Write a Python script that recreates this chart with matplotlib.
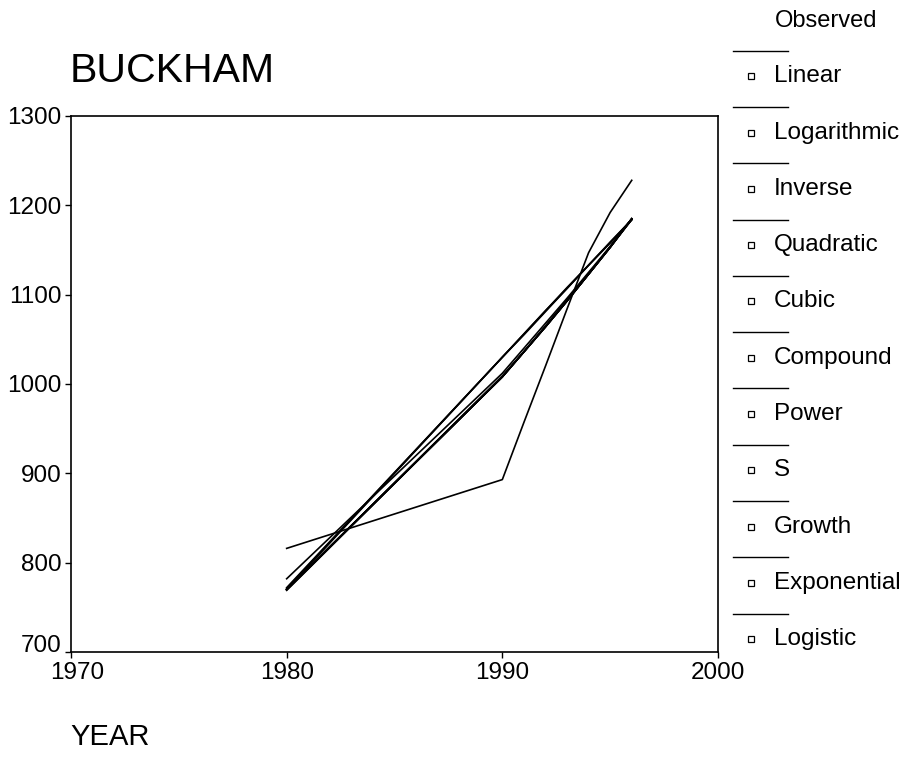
import matplotlib
matplotlib.use("Agg")
import matplotlib.pyplot as plt
from matplotlib.lines import Line2D
from matplotlib.patches import Rectangle
from matplotlib.transforms import ScaledTranslation

plt.rcParams['font.family'] = ['Liberation Sans', 'DejaVu Sans']

# Years at which the curves are evaluated
years = [1980, 1990, 1991, 1992, 1993, 1994, 1995, 1996]

# Fitted values per model (population)
linear      = [772, 1030, 1055, 1081, 1107, 1133, 1158, 1184]
logarithmic = [771, 1030, 1056, 1082, 1107, 1133, 1158, 1184]
inverse     = [770, 1030, 1056, 1082, 1108, 1133, 1159, 1184]
quadratic   = [782, 1012, 1040, 1068, 1096, 1125, 1154, 1184]
cubic       = [816, 893, 957, 1020, 1084, 1147, 1192, 1228]
compound    = [770, 1008, 1036, 1064, 1093, 1123, 1153, 1185]
power       = [769, 1008, 1036, 1064, 1093, 1123, 1153, 1184]
s_curve     = [770, 1009, 1036, 1065, 1094, 1123, 1154, 1185]
growth      = [770, 1008, 1036, 1064, 1093, 1123, 1153, 1185]
exponential = [770, 1008, 1036, 1064, 1093, 1123, 1153, 1185]
logistic    = [770, 1008, 1036, 1064, 1093, 1123, 1153, 1185]

legend_labels = ["Linear", "Logarithmic", "Inverse", "Quadratic", "Cubic",
                 "Compound", "Power", "S", "Growth", "Exponential", "Logistic"]
series = [linear, logarithmic, inverse, quadratic, cubic,
          compound, power, s_curve, growth, exponential, logistic]

x_ticks = [1970, 1980, 1990, 2000]
y_ticks = [700, 800, 900, 1000, 1100, 1200, 1300]

W, H = 903, 758
fig = plt.figure(figsize=(W / 100, H / 100), dpi=100)
fig.patch.set_facecolor("white")

left, right, top, bottom = 71, 718, 116, 652
ax = fig.add_axes([left / W, 1 - bottom / H, (right - left) / W, (bottom - top) / H])

for vals in series:
    ax.plot(years, vals, color="black", lw=1.2, solid_joinstyle="round")

ax.set_xlim(1970, 2000)
ax.set_ylim(700, 1300)
ax.set_xticks(x_ticks)
ax.set_yticks(y_ticks)
ax.set_xticklabels([str(v) for v in x_ticks])
ax.set_yticklabels([str(v) for v in y_ticks])
ax.tick_params(direction="out", length=4, width=1, pad=3, labelsize=17.5,
               colors="black")
for sp in ax.spines.values():
    sp.set_linewidth(1.2)
    sp.set_color("black")

# keep the corner labels apart
lbl700 = ax.get_yticklabels()[0]
lbl700.set_transform(lbl700.get_transform() + ScaledTranslation(0, 9 / 100, fig.dpi_scale_trans))
lbl1970 = ax.get_xticklabels()[0]
lbl1970.set_transform(lbl1970.get_transform() + ScaledTranslation(6 / 100, 0, fig.dpi_scale_trans))

# title and axis caption
fig.text(70 / W, 1 - 82 / H, "BUCKHAM", fontsize=29.5, ha="left", va="baseline")
fig.text(70 / W, 1 - 745 / H, "YEAR", fontsize=21, ha="left", va="baseline")

# legend column on the right
fig.text(775 / W, 1 - 21 / H, "Observed", fontsize=17, ha="left", va="center")
step = 56.3
for i, lab in enumerate(legend_labels):
    ly = 50.7 + i * step
    fig.add_artist(Line2D([733 / W, 788 / W], [1 - ly / H, 1 - ly / H],
                          color="black", lw=1.0, transform=fig.transFigure))
    ty = ly + 25.5
    fig.add_artist(Rectangle(((748) / W, 1 - (ty + 3) / H), 6 / W, 6 / H,
                             facecolor="white", edgecolor="black", lw=0.9,
                             transform=fig.transFigure))
    fig.text(774 / W, 1 - ty / H, lab, fontsize=17.5, ha="left", va="center")

fig.savefig("out.png", dpi=100, facecolor="white")
